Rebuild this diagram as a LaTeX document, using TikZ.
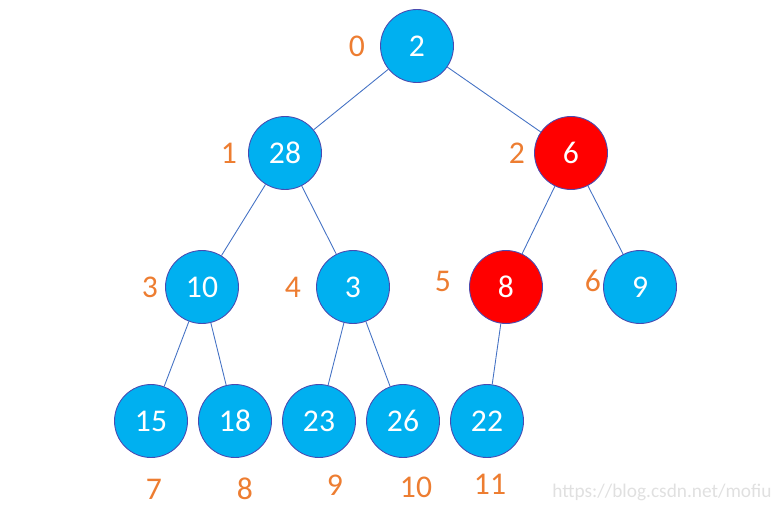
\documentclass[tikz,border=0pt]{standalone}
\usepackage{fontspec}
\setmainfont{Carlito}
\definecolor{heapblue}{HTML}{00B0F0}
\definecolor{heapred}{HTML}{FF0000}
\definecolor{rimcol}{HTML}{4A4AB0}
\definecolor{edgecol}{HTML}{4472C4}
\definecolor{idxcol}{HTML}{ED7D31}
\tikzset{
  heapnode/.style={circle,draw=rimcol,line width=0.5pt,fill=heapblue,minimum size=1.46cm,inner sep=0pt,text=white,font=\fontsize{18}{22}\selectfont},
  hotnode/.style={heapnode,fill=heapred},
  idx/.style={text=idxcol,font=\fontsize{18}{22}\selectfont,inner sep=0pt},
  link/.style={draw=edgecol,line width=0.5pt}
}
\begin{document}
\begin{tikzpicture}[x=0.02cm,y=-0.02cm]
  \useasboundingbox (0,0) rectangle (776,510);
  % heap cells
  \foreach \nm/\px/\py/\val in {n0/417/46/2,n1/285/153/28,n3/202/287/10,n4/353/287/3,n6/640/287/9,
      n7/151/421/15,n8/235/421/18,n9/319/421/23,n10/403/421/26,n11/487/421/22} {
    \node[heapnode] at (\px,\py) (\nm) {\val};
  }
  \node[hotnode] at (571,153) (n2) {6};
  \node[hotnode] at (506,287) (n5) {8};
  % tree edges
  \foreach \a/\b in {n0/n1,n0/n2,n1/n3,n1/n4,n2/n5,n2/n6,n3/n7,n3/n8,n4/n9,n4/n10,n5/n11}
    \draw[link] (\a) -- (\b);
  % array indices
  \foreach \nm/\px/\py/\lab in {i0/357/46/0,i1/229/153/1,i2/517/153/2,i3/150/287/3,i4/293/287/4,
      i5/443/281/5,i6/593/281/6,i7/154/489/7,i8/245/489/8,i9/335/485/9,i10/416/487/10,i11/490/484/11} {
    \node[idx] at (\px,\py) (\nm) {\lab};
  }
  \node[text=black!12,font=\fontsize{11}{13}\selectfont] at (662,492) (mark) {https://blog.csdn.net/mofiu};
\end{tikzpicture}
\end{document}
